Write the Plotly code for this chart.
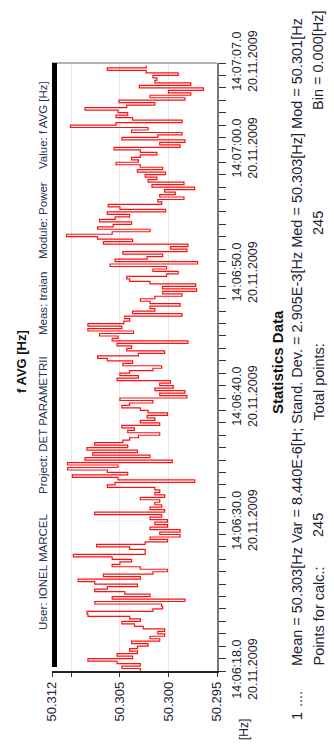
import plotly.graph_objects as go
from datetime import datetime, timedelta

# ---- data ----
start_time = "2009-11-20 14:06:18"
sample_ms = 200
f_avg = [
    50.3029, 50.3048, 50.3029, 50.3053, 50.3083, 50.3037, 50.3053, 50.3032, 50.3040, 50.3032,
    50.3021, 50.3038, 50.3009, 50.3019, 50.3004, 50.3011, 50.3004, 50.3026, 50.3035, 50.3048,
    50.3029, 50.3040, 50.3083, 50.3084, 50.3016, 50.3006, 50.3007, 50.3076, 50.2983, 50.3058,
    50.3019, 50.3045, 50.3076, 50.3063, 50.3032, 50.3076, 50.3093, 50.3029, 50.3067, 50.3016,
    50.3001, 50.3029, 50.3058, 50.3050, 50.3038, 50.3058, 50.3098, 50.3024, 50.3024, 50.3040,
    50.3074, 50.3024, 50.3001, 50.3019, 50.2988, 50.3009, 50.2988, 50.3019, 50.3001, 50.3014,
    50.3001, 50.3019, 50.3007, 50.3076, 50.3004, 50.3019, 50.3007, 50.3014, 50.3009, 50.3029,
    50.3004, 50.3014, 50.3009,
    50.3014, 50.3063, 50.3055, 50.2973, 50.3052, 50.3099, 50.3042, 50.3063, 50.3104, 50.3052,
    50.3104, 50.2996, 50.3086, 50.3019, 50.3078, 50.3032, 50.3084, 50.3042, 50.3076, 50.3047,
    50.3040, 50.3031, 50.3009, 50.3042, 50.3035, 50.3048, 50.3009, 50.3029, 50.3014, 50.3022,
    50.3001, 50.3021, 50.3029, 50.3048, 50.3040, 50.3016, 50.3050, 50.2981, 50.3009, 50.2983,
    50.3014, 50.2995, 50.3009, 50.2998, 50.3053, 50.3031, 50.3050, 50.3040, 50.3016, 50.3007,
    50.3047, 50.3037, 50.3063, 50.3073, 50.3031, 50.3004, 50.3043, 50.3038, 50.3053, 50.2980,
    50.3058, 50.3052, 50.3071, 50.3036, 50.3083, 50.3048, 50.3083, 50.3046, 50.3040, 50.3045,
    50.2986, 50.3037, 50.3014, 50.3019, 50.2988, 50.3019, 50.3029, 50.3014, 50.2986, 50.3006,
    50.2971, 50.3006, 50.2972, 50.3019, 50.3040, 50.3043, 50.3002, 50.2990, 50.3016, 50.3002,
    50.3060, 50.2970, 50.3055, 50.3022, 50.3006, 50.3047, 50.2981, 50.2998, 50.2980,
    50.3067, 50.3037, 50.3073, 50.3105, 50.3058, 50.3019, 50.3073, 50.3057, 50.3038, 50.3071,
    50.3055, 50.3040, 50.3063, 50.3003, 50.3050, 50.3062, 50.3007, 50.3011, 50.2984, 50.3009,
    50.2993, 50.3004, 50.2973, 50.3017, 50.2984, 50.3021, 50.3012, 50.3024, 50.3003, 50.3032,
    50.3006, 50.3029, 50.3054, 50.3031, 50.3038, 50.3029, 50.3012, 50.3029, 50.3056, 50.2988,
    50.3009, 50.2983, 50.3048, 50.3011, 50.2986, 50.3038, 50.3021, 50.3101, 50.3054, 50.2986,
    50.3037, 50.3054, 50.3042, 50.3052, 50.3086, 50.3043, 50.3014, 50.3051, 50.2983, 50.3019,
    50.2977, 50.3000, 50.2964, 50.3030, 50.2977, 50.3014, 50.3012, 50.3016, 50.2990, 50.3023,
    50.3063, 50.3023, 50.3023,
]

value_tickvals = [50.312, 50.310, 50.305, 50.300, 50.295]
value_ticktext = ["50.312", "", "50.305", "50.300", "50.295"]
time_tickvals = ["2009-11-20 14:06:18", "2009-11-20 14:06:30", "2009-11-20 14:06:40",
                 "2009-11-20 14:06:50", "2009-11-20 14:07:00", "2009-11-20 14:07:07"]
time_ticktext = ["14:06:18.0<br>20.11.2009", "14:06:30.0<br>20.11.2009", "14:06:40.0<br>20.11.2009",
                 "14:06:50.0<br>20.11.2009", "14:07:00.0<br>20.11.2009", "14:07:07.0<br>20.11.2009"]

header_items = ["User: IONEL MARCEL", "Project: DET PARAMETRII", "Meas: traian",
                "Module: Power", "Value: f AVG [Hz]"]
stats_row1 = "Mean = 50.303[Hz Var = 8.440E-6[H; Stand. Dev. = 2.905E-3[Hz Med = 50.303[Hz] Mod = 50.301[Hz"
stats_row2 = ["Points for calc.:", "245", "Total points:", "245", "Bin = 0.000[Hz]"]

# ---- build ----
t0 = datetime.strptime(start_time, "%Y-%m-%d %H:%M:%S")
times = [t0 + timedelta(milliseconds=sample_ms * i) for i in range(len(f_avg))]

W, H = 334, 753
L, R, T, B = 52, 217, 63, 671   # plot area in pixels


def px(x):
    return (x - L) / (R - L)


def py(y):
    return (B - y) / (B - T)


fig = go.Figure()
fig.add_trace(go.Scatter(
    x=f_avg, y=times, mode="lines", line=dict(color="#ff1010", width=1.2, shape="vh"),
    hoverinfo="skip", showlegend=False))

FONT = "Liberation Sans, Arial, sans-serif"
TXT = "#1e2233"

fig.update_layout(
    width=W, height=H,
    margin=dict(l=L, r=W - R, t=T, b=H - B),
    paper_bgcolor="white", plot_bgcolor="white",
    font=dict(family=FONT, color=TXT, size=12),
    xaxis=dict(
        range=[50.312, 50.295], tickvals=value_tickvals, ticktext=value_ticktext,
        tickangle=-90, ticks="outside", ticklen=4, tickcolor="#333",
        showline=True, linecolor="#222", linewidth=1.5,
        showgrid=True, gridcolor="#e6e6e6", gridwidth=1, zeroline=False,
        tickfont=dict(size=13, color=TXT),
    ),
    yaxis=dict(
        type="date", range=[time_tickvals[0], time_tickvals[-1]], side="right",
        tickvals=time_tickvals, ticktext=time_ticktext, tickangle=-90,
        ticks="outside", ticklen=7, tickcolor="#333",
        minor=dict(dtick=1000, ticks="outside", ticklen=7, tickcolor="#333", showgrid=False),
        showline=True, linecolor="#777", linewidth=1.5,
        showgrid=False, zeroline=False,
        tickfont=dict(size=12.5, color=TXT),
    ),
    shapes=[
        dict(type="line", xref="paper", yref="paper", x0=0, x1=1, y0=1, y1=1,
             line=dict(color="#999", width=1.5)),
        dict(type="rect", xref="paper", yref="paper", x0=0, x1=px(57), y0=py(667), y1=1,
             fillcolor="black", line=dict(width=0)),
    ],
)

ann = []


def add(text, x, y, size, yanchor="middle", bold=False, color=TXT):
    ann.append(dict(text=("<b>%s</b>" % text) if bold else text, x=px(x), y=py(y),
                    xref="paper", yref="paper", showarrow=False, textangle=-90,
                    xanchor="center", yanchor=yanchor,
                    font=dict(size=size, family=FONT, color=color)))


add("f AVG [Hz]", 21, 362, 13, bold=True, color="#111")
header_y = [572, 425, 304, 221, 125]
for txt, yy in zip(header_items, header_y):
    add(txt, 43, yy, 11.5, color="#2a3350")
add("[Hz]", 244, 730, 12)
add("Statistics Data", 277, 362, 15, bold=True, color="#111")
add("1", 297, 716, 14.5)
add("....", 297, 699, 14.5)
add(stats_row1, 297, 668, 14.5, yanchor="bottom")
add(stats_row2[0], 318, 668, 14.5, yanchor="bottom")
add(stats_row2[1], 318, 525, 14.5)
add(stats_row2[2], 318, 423, 14.5, yanchor="bottom")
add(stats_row2[3], 318, 223, 14.5)
add(stats_row2[4], 318, 112, 14.5, yanchor="bottom")

fig.update_layout(annotations=ann)
fig.write_html("out.html", config={"displayModeBar": False, "staticPlot": True},
               post_script="document.body.style.margin='0';document.body.style.overflow='hidden';")
